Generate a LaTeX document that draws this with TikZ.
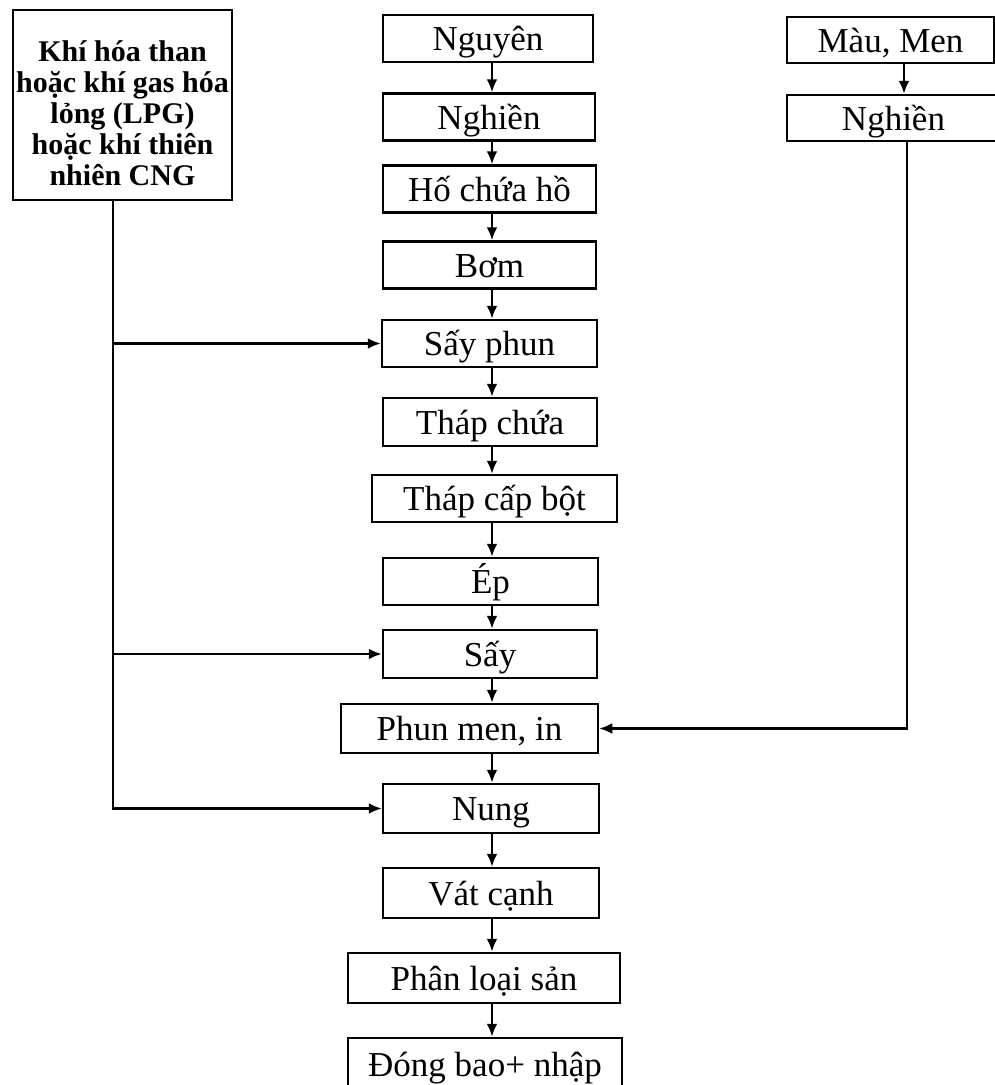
\documentclass[tikz,border=0pt]{standalone}
\usepackage{fontspec}
\setmainfont{Liberation Serif}
\usetikzlibrary{arrows.meta}

\begin{document}
\begin{tikzpicture}[x=1pt, y=-1pt,
  stage/.style={draw, line width=2.5pt, inner sep=0pt, minimum height=47, text height=31pt, text depth=7pt, font=\fontsize{35}{38}\selectfont},
  flow/.style={line width=2.4pt, -{Latex[length=13pt, width=11pt]}}]

\useasboundingbox (0,0) rectangle (995,1085) ;

\node [stage, minimum width=219, minimum height=190, align=center, text height=, text depth=, font=\bfseries\fontsize{30}{31}\selectfont] (gas) at (122.5,105) {\rule{0pt}{38pt}Khí hóa than\\hoặc khí gas hóa\\lỏng (LPG)\\hoặc khí thiên\\nhiên CNG} ;

\node [stage, minimum width=210] (nguyen) at (488,38.5) {Nguyên} ;
\node [stage, minimum width=212] (nghien) at (489,117) {Nghiền} ;
\node [stage, minimum width=213] (hochua) at (489.5,189) {Hố chứa hồ} ;
\node [stage, minimum width=213] (bom) at (489.5,265) {Bơm} ;
\node [stage, minimum width=215] (sayphun) at (489.5,343.5) {Sấy phun} ;
\node [stage, minimum width=214, minimum height=48] (thapchua) at (490,422) {Tháp chứa} ;
\node [stage, minimum width=245] (thapcap) at (494.5,498.5) {Tháp cấp bột} ;
\node [stage, minimum width=215] (ep) at (490.5,581.5) {Ép} ;
\node [stage, minimum width=214, minimum height=48] (say) at (490,654) {Sấy} ;
\node [stage, minimum width=257, minimum height=49] (phunmen) at (469.5,728.5) {Phun men, in} ;
\node [stage, minimum width=216, minimum height=49] (nung) at (491,808.5) {Nung} ;
\node [stage, minimum width=216, minimum height=50] (vatcanh) at (491,893) {Vát cạnh} ;
\node [stage, minimum width=272, minimum height=50] (phanloai) at (484,978) {Phân loại sản} ;
\node [stage, minimum width=274, minimum height=52] (dongbao) at (485,1064) {Đóng bao+ nhập} ;

\node [stage, minimum width=207, minimum height=46] (mau) at (890.5,40) {Màu, Men} ;
\node [stage, minimum width=213, minimum height=46] (nghienR) at (893.5,118) {Nghiền} ;

\coordinate (spine) at (492,0) ;
\coordinate (trunk) at (113,0) ;
\coordinate (rspine) at (904,0) ;
\coordinate (rtrunk) at (907,0) ;

\draw [flow] (nguyen.south -| spine) -- (nghien.north -| spine) ;
\draw [flow] (nghien.south -| spine) -- (hochua.north -| spine) ;
\draw [flow] (hochua.south -| spine) -- (bom.north -| spine) ;
\draw [flow] (bom.south -| spine) -- (sayphun.north -| spine) ;
\draw [flow] (sayphun.south -| spine) -- (thapchua.north -| spine) ;
\draw [flow] (thapchua.south -| spine) -- (thapcap.north -| spine) ;
\draw [flow] (thapcap.south -| spine) -- (ep.north -| spine) ;
\draw [flow] (ep.south -| spine) -- (say.north -| spine) ;
\draw [flow] (say.south -| spine) -- (phunmen.north -| spine) ;
\draw [flow] (phunmen.south -| spine) -- (nung.north -| spine) ;
\draw [flow] (nung.south -| spine) -- (vatcanh.north -| spine) ;
\draw [flow] (vatcanh.south -| spine) -- (phanloai.north -| spine) ;
\draw [flow] (phanloai.south -| spine) -- (dongbao.north -| spine) ;

\draw [flow] (gas.south -| trunk) |- (nung.west) ;
\draw [flow] (sayphun.west -| trunk) -- (sayphun.west) ;
\draw [flow] (say.west -| trunk) -- (say.west) ;

\draw [flow] (mau.south -| rspine) -- (nghienR.north -| rspine) ;
\draw [flow] (nghienR.south -| rtrunk) |- (phunmen.east) ;

\end{tikzpicture}
\end{document}
